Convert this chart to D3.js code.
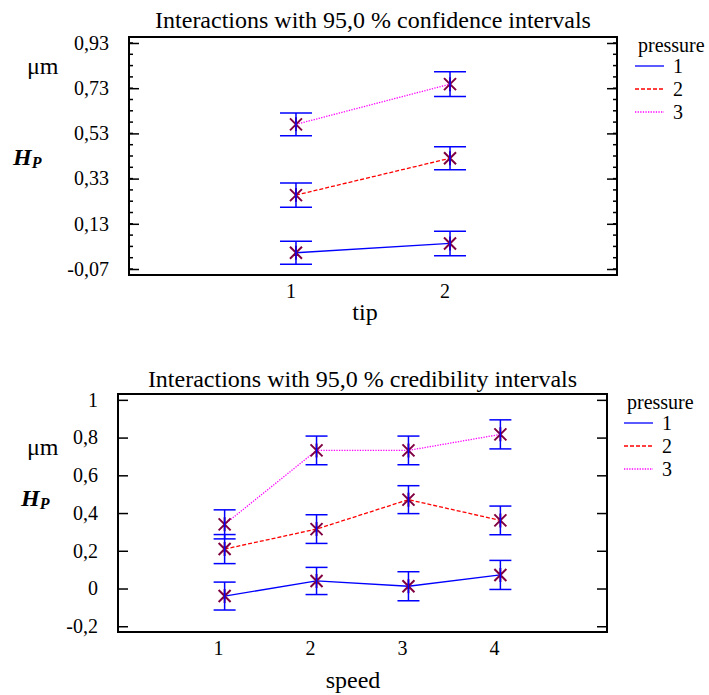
<!DOCTYPE html>
<html>
<head>
<meta charset="utf-8">
<script src="https://cdn.jsdelivr.net/npm/d3@7/dist/d3.min.js"></script>
<style>
  body { margin: 0; background: #fff; }
  svg text { font-family: "Liberation Serif", "Times New Roman", serif; }
</style>
</head>
<body>
<svg id="chart" width="709" height="695"></svg>
<script>

// series names (legend)
var pressure_levels = ['1', '2', '3'];

// top panel : tip x pressure, 95% confidence intervals
var tip_categories = [1, 2];
var tip_mean_p1 = [0.002, 0.043];
var tip_mean_p2 = [0.257, 0.420];
var tip_mean_p3 = [0.570, 0.748];
var tip_half_p1 = [0.051, 0.054];
var tip_half_p2 = [0.054, 0.051];
var tip_half_p3 = [0.050, 0.055];
var tip_major_ticks = [-0.07, 0.13, 0.33, 0.53, 0.73, 0.93];
var tip_tick_labels = ['-0,07', '0,13', '0,33', '0,53', '0,73', '0,93'];

// bottom panel : speed x pressure, 95% credibility intervals
var speed_categories = [1, 2, 3, 4];
var speed_mean_p1 = [-0.040, 0.040, 0.012, 0.072];
var speed_mean_p2 = [0.209, 0.315, 0.471, 0.361];
var speed_mean_p3 = [0.340, 0.732, 0.732, 0.817];
var speed_half_p1 = [0.074, 0.072, 0.077, 0.077];
var speed_half_p2 = [0.077, 0.076, 0.074, 0.076];
var speed_half_p3 = [0.077, 0.076, 0.076, 0.077];
var speed_major_ticks = [-0.2, 0, 0.2, 0.4, 0.6, 0.8, 1];
var speed_tick_labels = ['-0,2', '0', '0,2', '0,4', '0,6', '0,8', '1'];


/**
 * interaction plot container
 */
var app_interaction_plot = (function () {

  var svg = d3.select('#chart');
  var serif = '"Liberation Serif", "Times New Roman", serif';

  var line_colors = ['#0000ff', '#ff0000', '#ff00ff'];
  var line_dashes = [null, '4,2', '1.3,1.3'];
  var bar_color = '#0000ff';
  var marker_color = '#800040';

  function drawPanel( cfg ) {

    var g = svg.append('g').attr('font-family', serif);

    var x = d3.scaleLinear().domain(cfg.x_domain).range([cfg.left, cfg.right]);
    var y = d3.scaleLinear().domain(cfg.y_domain).range([cfg.bottom, cfg.top]);

    // title
    g.append('text')
      .attr('x', (cfg.left + cfg.right) / 2)
      .attr('y', cfg.title_y)
      .attr('text-anchor', 'middle')
      .style('font-size', '24px')
      .text(cfg.title);

    // minor ticks (left + right, inward)
    if (cfg.minor_ticks) {
      g.selectAll('line.minor')
        .data(cfg.minor_ticks)
        .enter()
        .append('line')
        .attr('x1', cfg.left).attr('x2', cfg.left + 4)
        .attr('y1', function(d) { return y(d); }).attr('y2', function(d) { return y(d); })
        .attr('stroke', '#000').attr('stroke-width', 1.5);
      g.selectAll('line.minor_r')
        .data(cfg.minor_ticks)
        .enter()
        .append('line')
        .attr('x1', cfg.right).attr('x2', cfg.right - 4)
        .attr('y1', function(d) { return y(d); }).attr('y2', function(d) { return y(d); })
        .attr('stroke', '#000').attr('stroke-width', 1.5);
    }

    // major ticks
    var left_axis = d3.axisRight(y).tickValues(cfg.major_ticks).tickSize(10).tickFormat('');
    var right_axis = d3.axisLeft(y).tickValues(cfg.major_ticks).tickSize(10).tickFormat('');
    g.append('g').attr('transform', 'translate(' + cfg.left + ',0)').call(left_axis);
    g.append('g').attr('transform', 'translate(' + cfg.right + ',0)').call(right_axis);
    g.selectAll('.domain').remove();
    g.selectAll('.tick line').attr('stroke', '#000').attr('stroke-width', 1.5);

    // y tick labels
    g.selectAll('text.ylab')
      .data(cfg.major_ticks)
      .enter()
      .append('text')
      .attr('x', cfg.left - 20)
      .attr('y', function(d) { return y(d); })
      .attr('dy', '0.34em')
      .attr('text-anchor', 'end')
      .style('font-size', '20px')
      .text(function(d, i) { return cfg.tick_labels[i]; });

    // x tick labels
    g.selectAll('text.xlab')
      .data(cfg.categories)
      .enter()
      .append('text')
      .attr('x', function(d) { return x(d) + cfg.label_shift; })
      .attr('y', cfg.bottom + 23)
      .attr('text-anchor', 'middle')
      .style('font-size', '20px')
      .text(function(d) { return d; });

    // axis titles
    g.append('text')
      .attr('x', cfg.x_title_x).attr('y', cfg.x_title_y)
      .attr('text-anchor', 'middle')
      .style('font-size', '24px')
      .text(cfg.x_title);

    g.append('text')
      .attr('x', 27).attr('y', cfg.unit_y)
      .style('font-size', '24px')
      .text('\u03bcm');

    var hp = g.append('text')
      .attr('x', cfg.hp_x).attr('y', cfg.hp_y)
      .style('font-size', '24px')
      .style('font-weight', 'bold')
      .style('font-style', 'italic');
    hp.append('tspan').text('H');
    hp.append('tspan').attr('dy', 3).style('font-size', '16px').text('P');

    // series lines
    var line = d3.line()
      .x(function(d) { return x(d.c); })
      .y(function(d) { return y(d.m); });

    cfg.means.forEach(function(series, s) {
      var pts = cfg.categories.map(function(c, i) {
        return { c: c, m: series[i], h: cfg.halves[s][i] };
      });

      g.append('path')
        .datum(pts)
        .attr('d', line)
        .attr('fill', 'none')
        .attr('stroke', line_colors[s])
        .attr('stroke-width', 1.3)
        .attr('stroke-dasharray', line_dashes[s]);

      // asterisk markers
      var mk = g.selectAll(null).data(pts).enter().append('g')
        .attr('transform', function(d) { return 'translate(' + x(d.c) + ',' + y(d.m) + ')'; });
      mk.append('path')
        .attr('d', 'M-6,-6L6,6M-6,6L6,-6M0,-7L0,7')
        .attr('stroke', marker_color)
        .attr('stroke-width', 2);

      // error bars
      var eb = g.selectAll(null).data(pts).enter().append('g')
        .attr('transform', function(d) { return 'translate(' + x(d.c) + ',0)'; });
      eb.append('line')
        .attr('x1', 0).attr('x2', 0)
        .attr('y1', function(d) { return y(d.m + d.h); })
        .attr('y2', function(d) { return y(d.m - d.h); })
        .attr('stroke', bar_color).attr('stroke-width', 1.5);
      eb.append('line')
        .attr('x1', -cfg.cap).attr('x2', cfg.cap)
        .attr('y1', function(d) { return y(d.m + d.h); })
        .attr('y2', function(d) { return y(d.m + d.h); })
        .attr('stroke', bar_color).attr('stroke-width', 1.5);
      eb.append('line')
        .attr('x1', -cfg.cap).attr('x2', cfg.cap)
        .attr('y1', function(d) { return y(d.m - d.h); })
        .attr('y2', function(d) { return y(d.m - d.h); })
        .attr('stroke', bar_color).attr('stroke-width', 1.5);
    });

    // frame
    g.append('rect')
      .attr('x', cfg.left).attr('y', cfg.top)
      .attr('width', cfg.right - cfg.left).attr('height', cfg.bottom - cfg.top)
      .attr('fill', 'none').attr('stroke', '#000').attr('stroke-width', 2);

    // legend
    g.append('text')
      .attr('x', cfg.legend_x + 3).attr('y', cfg.legend_y)
      .style('font-size', '20px')
      .text('pressure');

    pressure_levels.forEach(function(p, s) {
      var ly = cfg.legend_y + 14 + s * 23;
      g.append('line')
        .attr('x1', cfg.legend_x).attr('x2', cfg.legend_x + 29)
        .attr('y1', ly).attr('y2', ly)
        .attr('stroke', line_colors[s]).attr('stroke-width', 1.3)
        .attr('stroke-dasharray', line_dashes[s]);
      g.append('text')
        .attr('x', cfg.legend_x + 38).attr('y', ly + 7)
        .style('font-size', '20px')
        .text(p);
    });
  }

  function minorTicks( start, end, step ) {
    var out = [];
    var n = Math.round((end - start) / step);
    for (var i = 0; i <= n; i++) {
      out.push(start + i * step);
    }
    return out;
  }

  function render() {

    drawPanel({
      title: 'Interactions with 95,0 % confidence intervals',
      title_y: 28,
      left: 129, right: 617, top: 37, bottom: 275,
      x_domain: [-0.084, 3.084],
      y_domain: [-0.0965, 0.9565],
      categories: tip_categories,
      means: [tip_mean_p1, tip_mean_p2, tip_mean_p3],
      halves: [tip_half_p1, tip_half_p2, tip_half_p3],
      major_ticks: tip_major_ticks,
      tick_labels: tip_tick_labels,
      minor_ticks: minorTicks(-0.07, 0.93, 0.05),
      label_shift: -5,
      cap: 16,
      x_title: 'tip', x_title_x: 365, x_title_y: 320,
      unit_y: 74,
      hp_x: 13, hp_y: 165,
      legend_x: 635, legend_y: 52
    });

    drawPanel({
      title: 'Interactions with 95,0 % credibility intervals',
      title_y: 387,
      left: 118, right: 607, top: 394, bottom: 632,
      x_domain: [-0.16, 5.16],
      y_domain: [-0.2305, 1.031],
      categories: speed_categories,
      means: [speed_mean_p1, speed_mean_p2, speed_mean_p3],
      halves: [speed_half_p1, speed_half_p2, speed_half_p3],
      major_ticks: speed_major_ticks,
      tick_labels: speed_tick_labels,
      minor_ticks: null,
      label_shift: -6,
      cap: 11,
      x_title: 'speed', x_title_x: 353, x_title_y: 688,
      unit_y: 455,
      hp_x: 21, hp_y: 506,
      legend_x: 624, legend_y: 409
    });
  }

  return {
    'render' : render
  }

}());

app_interaction_plot.render();

</script>
</body>
</html>
